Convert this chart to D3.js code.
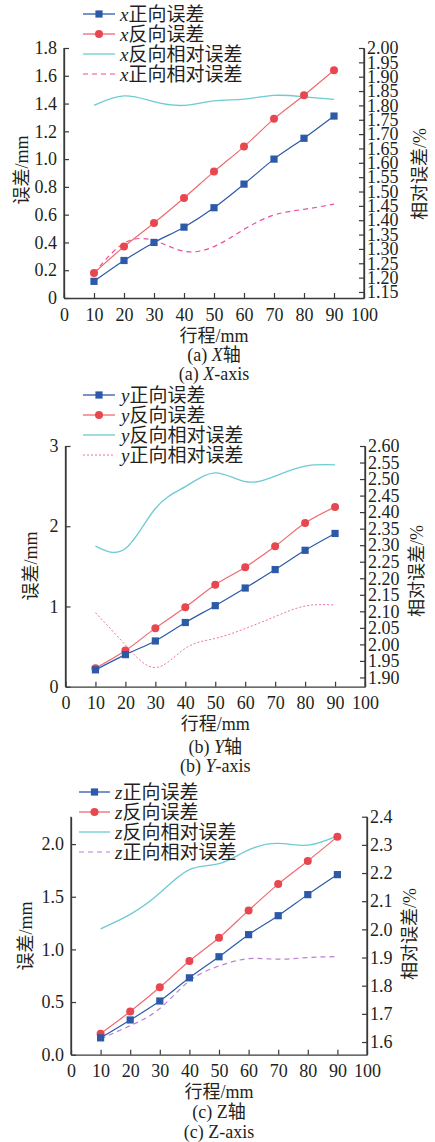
<!DOCTYPE html>
<html><head><meta charset="utf-8">
<script src="https://cdn.jsdelivr.net/npm/d3@7"></script>
<style>
html,body{margin:0;padding:0;background:#fff;}
svg text{font-family:"Liberation Serif","Noto Sans CJK SC",serif;fill:#231f20;}
</style></head>
<body><svg id="c" width="435" height="1142"></svg>
<script>
// ---------- data ----------
const stroke = [10,20,30,40,50,60,70,80,90];
const xTicks = [0,10,20,30,40,50,60,70,80,90,100];

// X axis panel
const xForward     = [0.12,0.27,0.40,0.51,0.65,0.82,1.00,1.15,1.31];
const xReverse     = [0.18,0.37,0.54,0.72,0.91,1.09,1.29,1.46,1.64];
const xReverseRel  = [1.800,1.833,1.813,1.800,1.816,1.822,1.835,1.830,1.821];
const xForwardRel  = [1.215,1.320,1.329,1.292,1.308,1.368,1.418,1.438,1.456];
const xLeftTicks   = [0,0.2,0.4,0.6,0.8,1.0,1.2,1.4,1.6,1.8];
const xLeftLabels  = ["0","0.2","0.4","0.6","0.8","1.0","1.2","1.4","1.6","1.8"];
const xRightTicks  = [1.15,1.20,1.25,1.30,1.35,1.40,1.45,1.50,1.55,1.60,1.65,1.70,1.75,1.80,1.85,1.90,1.95,2.00];

// Y axis panel
const yForward     = [0.21,0.40,0.57,0.80,1.01,1.23,1.46,1.70,1.91];
const yReverse     = [0.23,0.45,0.73,0.99,1.27,1.49,1.75,2.04,2.24];
const yReverseRel  = [2.297,2.290,2.411,2.477,2.519,2.492,2.509,2.539,2.543];
const yForwardRel  = [2.096,1.998,1.930,1.988,2.018,2.048,2.084,2.116,2.119];
const yLeftTicks   = [0,1,2,3];
const yLeftLabels  = ["0","1","2","3"];
const yRightTicks  = [1.90,1.95,2.00,2.05,2.10,2.15,2.20,2.25,2.30,2.35,2.40,2.45,2.50,2.55,2.60];

// Z axis panel
const zForward     = [0.16,0.33,0.51,0.73,0.93,1.14,1.32,1.52,1.71];
const zReverse     = [0.20,0.41,0.64,0.89,1.11,1.37,1.62,1.84,2.07];
const zReverseRel  = [2.002,2.053,2.129,2.212,2.233,2.282,2.305,2.299,2.332];
const zForwardRel  = [1.611,1.658,1.719,1.817,1.870,1.896,1.894,1.900,1.903];
const zLeftTicks   = [0,0.5,1.0,1.5,2.0];
const zLeftLabels  = ["0.0","0.5","1.0","1.5","2.0"];
const zRightTicks  = [1.6,1.7,1.8,1.9,2.0,2.1,2.2,2.3,2.4];

const legendX = ["x正向误差","x反向误差","x反向相对误差","x正向相对误差"];
const legendY = ["y正向误差","y反向误差","y反向相对误差","y正向相对误差"];
const legendZ = ["z正向误差","z反向误差","z反向相对误差","z正向相对误差"];

// ---------- drawing ----------
const svg = d3.select("#c");
const C = {blue:"#2c5aa8", red:"#e8474f", redLine:"#ef6a6e", cyan:"#6ccbd4", axis:"#3a3a3a"};

function panel(cfg){
  const g = svg.append("g");
  const x = d3.scaleLinear().domain([0,100]).range([cfg.L,cfg.R]);
  const yl = d3.scaleLinear().domain(cfg.lDom).range([cfg.B,cfg.T]);
  const yr = d3.scaleLinear().domain(cfg.rDom).range([cfg.B,cfg.T]);

  // axes
  const ax = g.append("g").attr("transform",`translate(0,${cfg.B})`)
    .call(d3.axisBottom(x).tickValues(xTicks).tickSizeInner(-5).tickSizeOuter(0).tickPadding(10));
  const al = g.append("g").attr("transform",`translate(${cfg.L},0)`)
    .call(d3.axisLeft(yl).tickValues(cfg.lTicks).tickFormat((d,i)=>cfg.lLabels[i]).tickSizeInner(-5).tickSizeOuter(0).tickPadding(7));
  const ar = g.append("g").attr("transform",`translate(${cfg.R},0)`)
    .call(d3.axisRight(yr).tickValues(cfg.rTicks).tickFormat(cfg.rFmt).tickSizeInner(-5).tickSizeOuter(0).tickPadding(4));
  [ax,al,ar].forEach(a=>{
    a.select(".domain").attr("stroke",C.axis).attr("stroke-width",1.3);
    a.selectAll(".tick line").attr("stroke",C.axis).attr("stroke-width",1.2);
    a.selectAll("text").attr("font-size",18).attr("fill","#231f20")
      .style("font-family","'Liberation Serif',serif");
  });
  ax.selectAll("text").attr("dy","0.7em");
  ar.selectAll("text").attr("dx","-1");
  // extend left and right axes to top
  g.append("line").attr("x1",cfg.L).attr("x2",cfg.L).attr("y1",cfg.T).attr("y2",cfg.B).attr("stroke",C.axis).attr("stroke-width",1.3);
  g.append("line").attr("x1",cfg.R).attr("x2",cfg.R).attr("y1",cfg.T).attr("y2",cfg.B).attr("stroke",C.axis).attr("stroke-width",1.3);

  const pts = arr => stroke.map((s,i)=>[s,arr[i]]);
  const lineL = d3.line().x(d=>x(d[0])).y(d=>yl(d[1])).curve(d3.curveMonotoneX);
  const lineR = d3.line().x(d=>x(d[0])).y(d=>yr(d[1])).curve(d3.curveNatural);

  g.append("path").attr("d",lineR(pts(cfg.revRel))).attr("fill","none").attr("stroke",C.cyan).attr("stroke-width",1.3);
  g.append("path").attr("d",lineR(pts(cfg.fwdRel))).attr("fill","none").attr("stroke",cfg.dashColor)
    .attr("stroke-width",cfg.dashW).attr("stroke-dasharray",cfg.dash);

  g.append("path").attr("d",lineL(pts(cfg.rev))).attr("fill","none").attr("stroke",C.redLine).attr("stroke-width",1.2);
  g.append("path").attr("d",lineL(pts(cfg.fwd))).attr("fill","none").attr("stroke",C.blue).attr("stroke-width",1.2);
  g.selectAll(null).data(pts(cfg.rev)).enter().append("circle")
    .attr("cx",d=>x(d[0])).attr("cy",d=>yl(d[1])).attr("r",4).attr("fill",C.red);
  g.selectAll(null).data(pts(cfg.fwd)).enter().append("rect")
    .attr("x",d=>x(d[0])-3.6).attr("y",d=>yl(d[1])-3.6).attr("width",7.2).attr("height",7.2).attr("fill",C.blue);

  // legend
  const lg = cfg.leg;
  cfg.legText.forEach((t,i)=>{
    const yy = lg.ys[i];
    const st = [C.blue,C.redLine,C.cyan,cfg.dashColor][i];
    const ln = g.append("line").attr("x1",lg.x0).attr("x2",lg.x1).attr("y1",yy).attr("y2",yy)
      .attr("stroke",st).attr("stroke-width", i===3?cfg.dashW:1.3);
    if(i===3) ln.attr("stroke-dasharray",cfg.dash);
    const cx=(lg.x0+lg.x1)/2;
    if(i===0) g.append("rect").attr("x",cx-3.6).attr("y",yy-3.6).attr("width",7.2).attr("height",7.2).attr("fill",C.blue);
    if(i===1) g.append("circle").attr("cx",cx).attr("cy",yy).attr("r",4).attr("fill",C.red);
    const tx = g.append("text").attr("x",lg.tx).attr("y",yy).attr("dy","0.35em").attr("font-size",19);
    tx.append("tspan").attr("font-style","italic").style("font-family","'Liberation Serif',serif").text(t[0]);
    tx.append("tspan").style("font-family","'Noto Sans CJK SC',sans-serif").text(t.slice(1));
  });

  // axis titles
  const xt = g.append("text").attr("x",(cfg.L+cfg.R)/2).attr("y",cfg.xtY).attr("dy","0.35em").attr("text-anchor","middle").attr("font-size",18);
  xt.append("tspan").style("font-family","'Noto Sans CJK SC',sans-serif").text("行程");
  xt.append("tspan").text("/mm");
  const lt = g.append("text").attr("transform",`translate(${cfg.ltX},${cfg.ltY}) rotate(-90)`).attr("dy","0.35em").attr("text-anchor","middle").attr("font-size",18);
  lt.append("tspan").style("font-family","'Noto Sans CJK SC',sans-serif").text("误差");
  lt.append("tspan").text("/mm");
  const rt = g.append("text").attr("transform",`translate(${cfg.rtX},${cfg.rtY}) rotate(-90)`).attr("dy","0.35em").attr("text-anchor","middle").attr("font-size",18);
  rt.append("tspan").style("font-family","'Noto Sans CJK SC',sans-serif").text("相对误差");
  rt.append("tspan").text("/%");

  // captions
  const c1 = g.append("text").attr("x",(cfg.L+cfg.R)/2).attr("y",cfg.c1Y).attr("dy","0.35em").attr("text-anchor","middle").attr("font-size",18);
  c1.append("tspan").text(cfg.cap[0]+" ");
  c1.append("tspan").attr("font-style",cfg.italic?"italic":"normal").text(cfg.cap[1]);
  c1.append("tspan").style("font-family","'Noto Sans CJK SC',sans-serif").text("轴");
  const c2 = g.append("text").attr("x",(cfg.L+cfg.R)/2).attr("y",cfg.c2Y).attr("dy","0.35em").attr("text-anchor","middle").attr("font-size",18);
  c2.append("tspan").text(cfg.cap[0]+" ");
  c2.append("tspan").attr("font-style",cfg.italic?"italic":"normal").text(cfg.cap[1]);
  c2.append("tspan").text("-axis");
}

panel({L:64,R:364,T:48,B:298,lDom:[0,1.8],rDom:[1.129,2.0],
  lTicks:xLeftTicks,lLabels:xLeftLabels,rTicks:xRightTicks,rFmt:d3.format(".2f"),
  fwd:xForward,rev:xReverse,fwdRel:xForwardRel,revRel:xReverseRel,
  dashColor:"#ec4f9c",dash:"5,4",dashW:1.2,
  leg:{x0:83,x1:115,tx:120,ys:[14,34,54,74]},legText:legendX,
  xtY:336,ltX:22,ltY:170,rtX:420,rtY:174,c1Y:355,c2Y:374,cap:["(a)","X"],italic:true});

panel({L:65.5,R:365,T:446,B:686.7,lDom:[0,3],rDom:[1.872,2.6],
  lTicks:yLeftTicks,lLabels:yLeftLabels,rTicks:yRightTicks,rFmt:d3.format(".2f"),
  fwd:yForward,rev:yReverse,fwdRel:yForwardRel,revRel:yReverseRel,
  dashColor:"#ee5fa5",dash:"2,2",dashW:0.9,
  leg:{x0:83,x1:115,tx:121,ys:[395,415,435,455]},legText:legendY,
  xtY:724,ltX:31,ltY:566,rtX:417,rtY:571,c1Y:747,c2Y:766,cap:["(b)","Y"],italic:true});

panel({L:71,R:367,T:816.7,B:1054.7,lDom:[0,2.26],rDom:[1.555,2.4],
  lTicks:zLeftTicks,lLabels:zLeftLabels,rTicks:zRightTicks,rFmt:d3.format(".1f"),
  fwd:zForward,rev:zReverse,fwdRel:zForwardRel,revRel:zReverseRel,
  dashColor:"#bb7fd2",dash:"5,4",dashW:1.2,
  leg:{x0:79,x1:110,tx:115,ys:[792,812,832,852]},legText:legendZ,
  xtY:1092,ltX:26,ltY:936,rtX:410,rtY:934,c1Y:1112,c2Y:1132,cap:["(c)","Z"],italic:false});
</script></body></html>
